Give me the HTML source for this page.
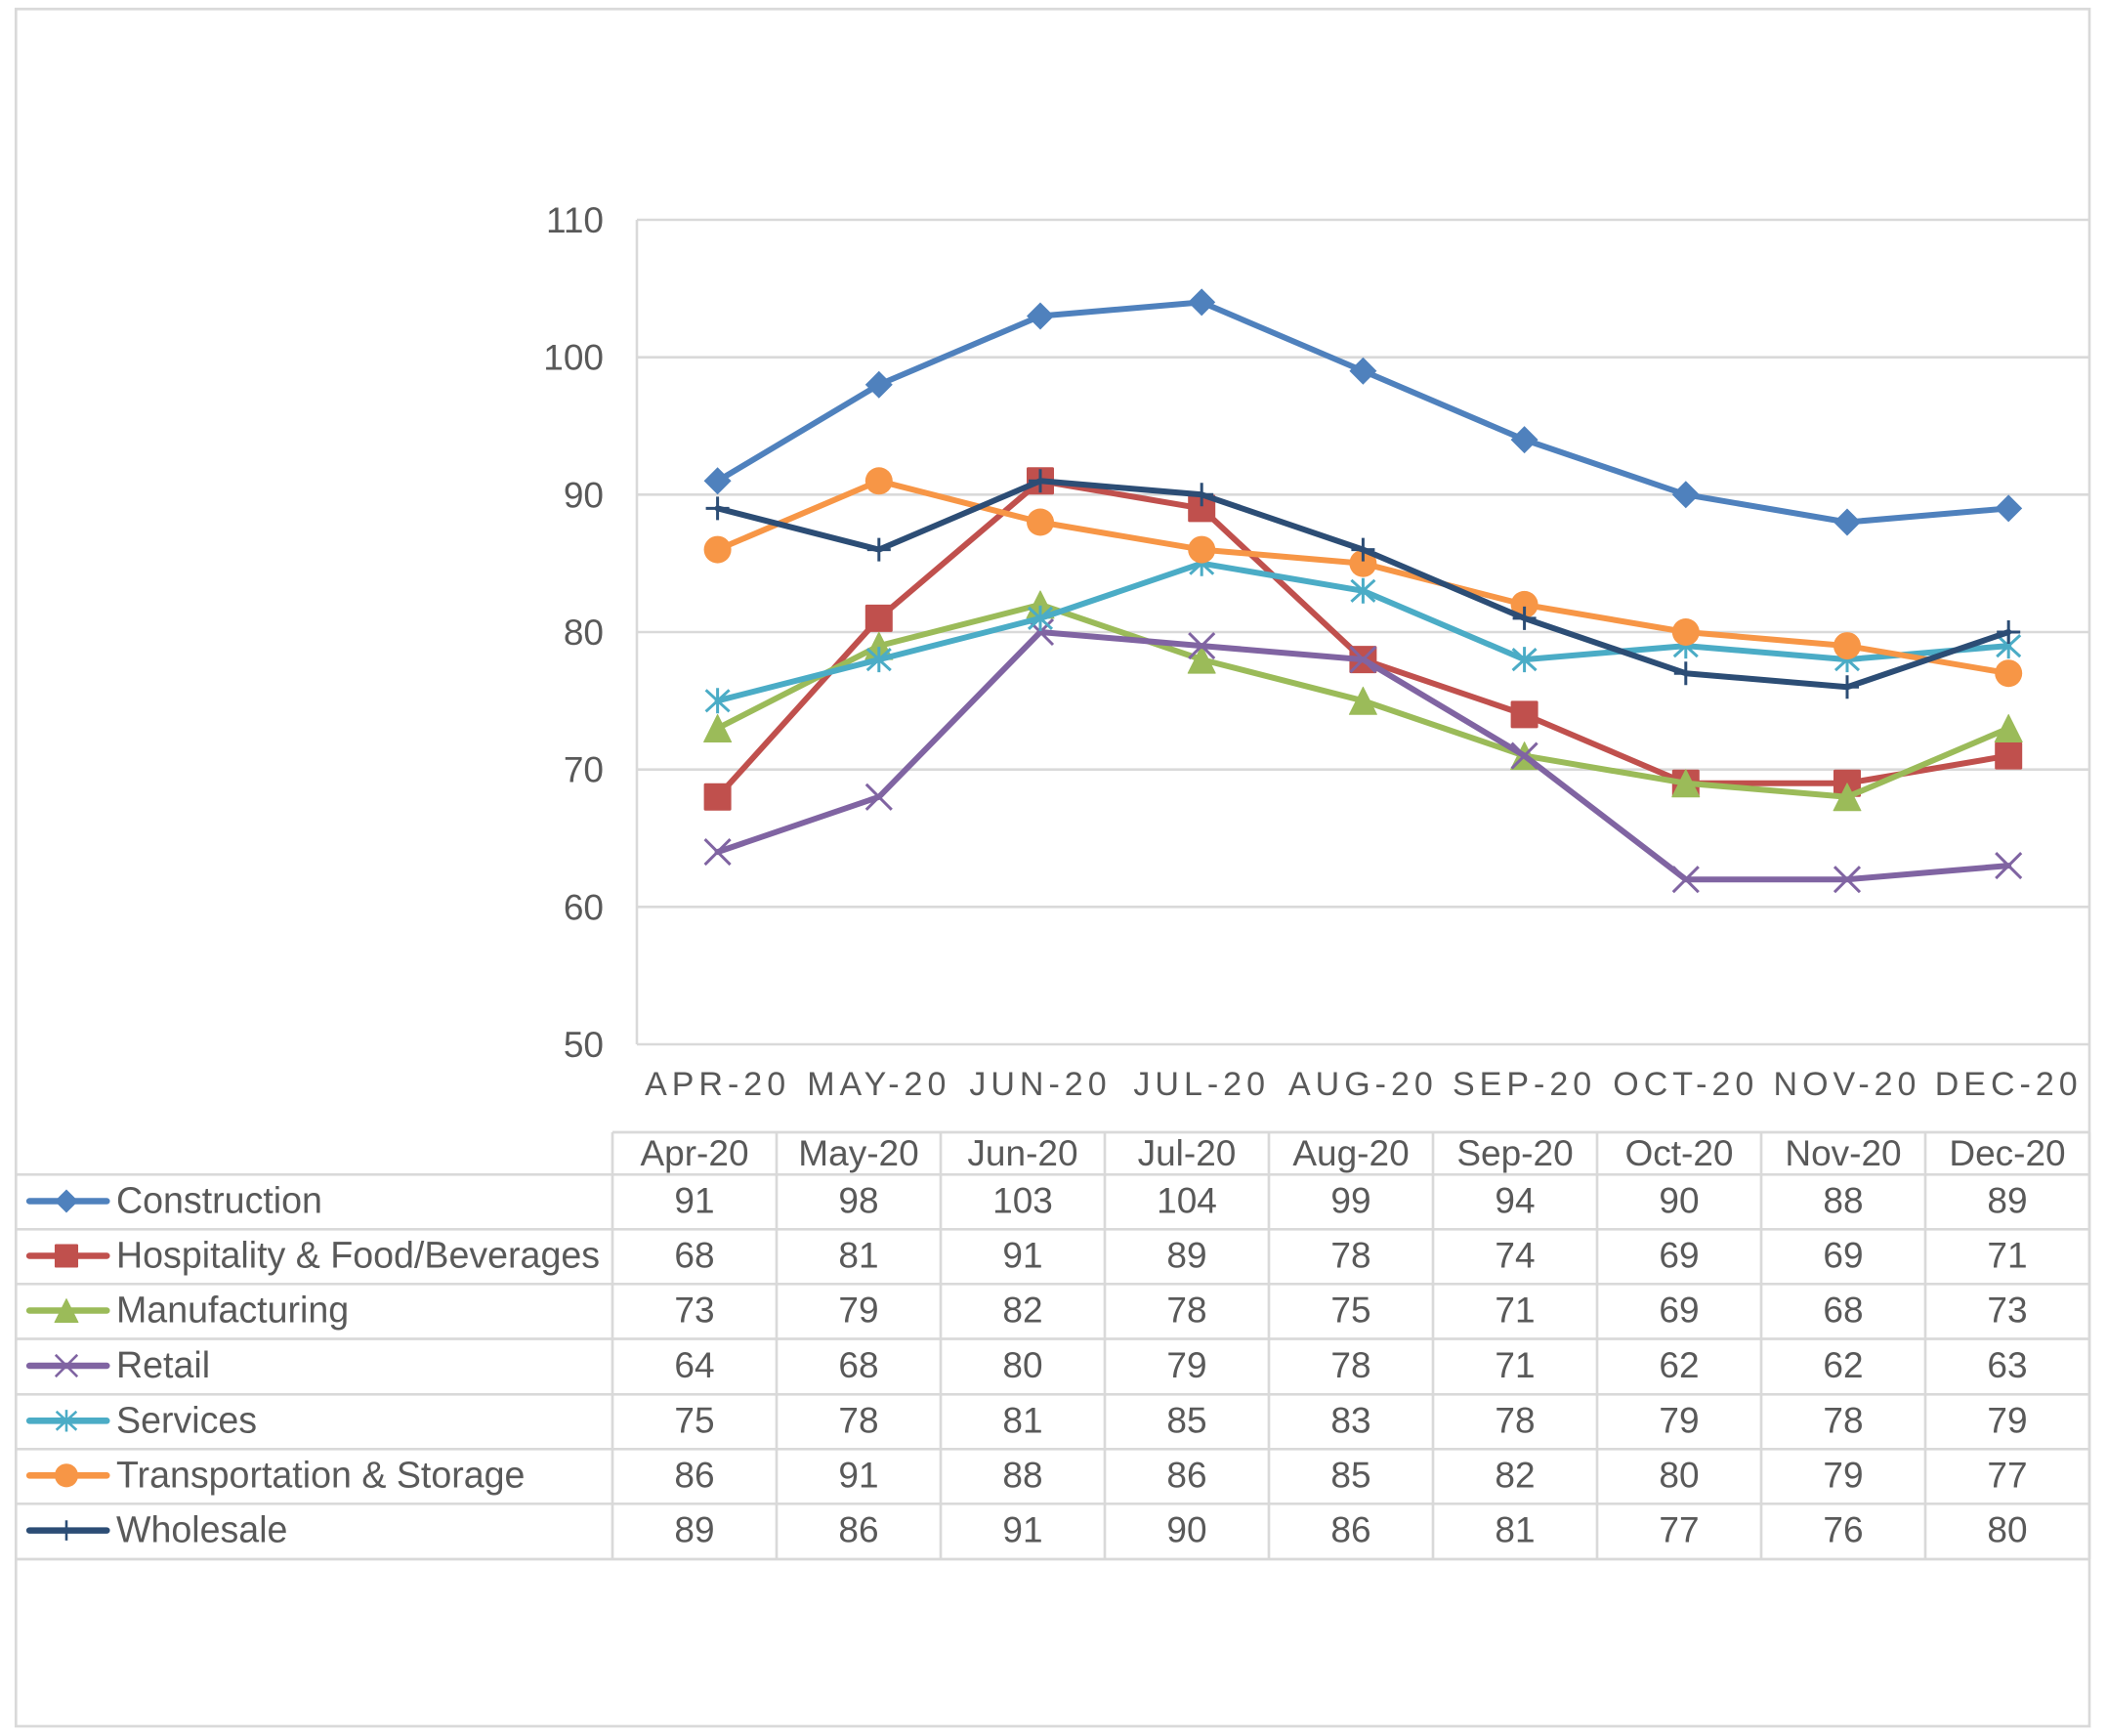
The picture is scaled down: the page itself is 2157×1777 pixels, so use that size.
<!DOCTYPE html>
<html>
<head>
<meta charset="utf-8">
<style>
  html,body{margin:0;padding:0;background:#fff;}
  svg{display:block;}
  text{font-family:"Liberation Sans",Arial,sans-serif;fill:#595959;}
</style>
</head>
<body>
<svg width="2157" height="1777" viewBox="0 0 2157 1777" xmlns="http://www.w3.org/2000/svg">
<defs>
  <marker id="mDia" markerUnits="userSpaceOnUse" markerWidth="30" markerHeight="30" refX="15" refY="15" viewBox="0 0 30 30" overflow="visible">
    <path d="M15 1 L29 15 L15 29 L1 15 Z" fill="#4F81BD"/>
  </marker>
  <marker id="mSq" markerUnits="userSpaceOnUse" markerWidth="30" markerHeight="30" refX="15" refY="15" viewBox="0 0 30 30" overflow="visible">
    <rect x="1" y="1" width="28" height="28" rx="1.5" fill="#C0504D"/>
  </marker>
  <marker id="mTri" markerUnits="userSpaceOnUse" markerWidth="30" markerHeight="30" refX="15" refY="15" viewBox="0 0 30 30" overflow="visible">
    <path d="M15 1 L29 29 L1 29 Z" fill="#9BBB59" stroke="#9BBB59" stroke-width="1" stroke-linejoin="round"/>
  </marker>
  <marker id="mX" markerUnits="userSpaceOnUse" markerWidth="30" markerHeight="30" refX="15" refY="15" viewBox="0 0 30 30" overflow="visible">
    <path d="M2 2 L28 28 M28 2 L2 28" stroke="#8064A2" stroke-width="3" fill="none"/>
  </marker>
  <marker id="mAst" markerUnits="userSpaceOnUse" markerWidth="30" markerHeight="30" refX="15" refY="15" viewBox="0 0 30 30" overflow="visible">
    <path d="M15 2 L15 28 M3 4 L27 26 M27 4 L3 26" stroke="#4BACC6" stroke-width="3" fill="none"/>
  </marker>
  <marker id="mCir" markerUnits="userSpaceOnUse" markerWidth="30" markerHeight="30" refX="15" refY="15" viewBox="0 0 30 30" overflow="visible">
    <circle cx="15" cy="15" r="14" fill="#F79646"/>
  </marker>
  <marker id="mPlus" markerUnits="userSpaceOnUse" markerWidth="30" markerHeight="30" refX="15" refY="15" viewBox="0 0 30 30" overflow="visible">
    <path d="M3 15 L27 15 M15 3 L15 27" stroke="#2C4D75" stroke-width="3" fill="none"/>
  </marker>
</defs>

<!-- outer border -->
<rect x="16.3" y="9.2" width="2122.7" height="1757.8" fill="#fff" stroke="#d9d9d9" stroke-width="2.7"/>

<!-- gridlines -->
<g stroke="#d9d9d9" stroke-width="2.6" fill="none">
  <line x1="652" y1="225" x2="2139" y2="225"/>
  <line x1="652" y1="365.7" x2="2139" y2="365.7"/>
  <line x1="652" y1="506.3" x2="2139" y2="506.3"/>
  <line x1="652" y1="647" x2="2139" y2="647"/>
  <line x1="652" y1="787.7" x2="2139" y2="787.7"/>
  <line x1="652" y1="928.3" x2="2139" y2="928.3"/>
  <line x1="652" y1="1069" x2="2139" y2="1069"/>
  <line x1="652" y1="225" x2="652" y2="1069"/>
</g>

<!-- y tick labels -->
<g font-size="37" text-anchor="end">
  <text x="618" y="238">110</text>
  <text x="618" y="378.7">100</text>
  <text x="618" y="519.3">90</text>
  <text x="618" y="660">80</text>
  <text x="618" y="800.7">70</text>
  <text x="618" y="941.3">60</text>
  <text x="618" y="1082">50</text>
</g>

<!-- x labels -->
<g font-size="34" text-anchor="middle" letter-spacing="5">
  <text x="734.6" y="1121">APR-20</text>
  <text x="899.8" y="1121">MAY-20</text>
  <text x="1065" y="1121">JUN-20</text>
  <text x="1230.2" y="1121">JUL-20</text>
  <text x="1395.4" y="1121">AUG-20</text>
  <text x="1560.6" y="1121">SEP-20</text>
  <text x="1725.8" y="1121">OCT-20</text>
  <text x="1891" y="1121">NOV-20</text>
  <text x="2056.2" y="1121">DEC-20</text>
</g>

<!-- series -->
<g fill="none" stroke-width="6" stroke-linejoin="round" stroke-linecap="round">
  <polyline stroke="#4F81BD" marker-start="url(#mDia)" marker-mid="url(#mDia)" marker-end="url(#mDia)"
    points="734.6,492.3 899.8,393.8 1065,323.5 1230.2,309.4 1395.4,379.7 1560.6,450.1 1725.8,506.3 1891,534.5 2056.2,520.4"/>
  <polyline stroke="#C0504D" marker-start="url(#mSq)" marker-mid="url(#mSq)" marker-end="url(#mSq)"
    points="734.6,815.8 899.8,632.9 1065,492.3 1230.2,520.4 1395.4,675.1 1560.6,731.4 1725.8,801.7 1891,801.7 2056.2,773.6"/>
  <polyline stroke="#9BBB59" marker-start="url(#mTri)" marker-mid="url(#mTri)" marker-end="url(#mTri)"
    points="734.6,745.5 899.8,661.1 1065,618.9 1230.2,675.1 1395.4,717.3 1560.6,773.6 1725.8,801.7 1891,815.8 2056.2,745.5"/>
  <polyline stroke="#8064A2" marker-start="url(#mX)" marker-mid="url(#mX)" marker-end="url(#mX)"
    points="734.6,872.1 899.8,815.8 1065,647 1230.2,661.1 1395.4,675.1 1560.6,773.6 1725.8,900.2 1891,900.2 2056.2,886.1"/>
  <polyline stroke="#4BACC6" marker-start="url(#mAst)" marker-mid="url(#mAst)" marker-end="url(#mAst)"
    points="734.6,717.3 899.8,675.1 1065,632.9 1230.2,576.7 1395.4,604.8 1560.6,675.1 1725.8,661.1 1891,675.1 2056.2,661.1"/>
  <polyline stroke="#F79646" marker-start="url(#mCir)" marker-mid="url(#mCir)" marker-end="url(#mCir)"
    points="734.6,562.6 899.8,492.3 1065,534.5 1230.2,562.6 1395.4,576.7 1560.6,618.9 1725.8,647 1891,661.1 2056.2,689.2"/>
  <polyline stroke="#2C4D75" marker-start="url(#mPlus)" marker-mid="url(#mPlus)" marker-end="url(#mPlus)"
    points="734.6,520.4 899.8,562.6 1065,492.3 1230.2,506.3 1395.4,562.6 1560.6,632.9 1725.8,689.2 1891,703.3 2056.2,647"/>
</g>

<!-- table lines -->
<g stroke="#d9d9d9" stroke-width="2.7" fill="none">
  <line x1="627" y1="1159" x2="2139" y2="1159"/>
  <line x1="16" y1="1202.3" x2="2139" y2="1202.3"/>
  <line x1="16" y1="1258.3" x2="2139" y2="1258.3"/>
  <line x1="16" y1="1314.3" x2="2139" y2="1314.3"/>
  <line x1="16" y1="1370.5" x2="2139" y2="1370.5"/>
  <line x1="16" y1="1427.3" x2="2139" y2="1427.3"/>
  <line x1="16" y1="1483.3" x2="2139" y2="1483.3"/>
  <line x1="16" y1="1539.3" x2="2139" y2="1539.3"/>
  <line x1="16" y1="1596" x2="2139" y2="1596"/>
  <line x1="627" y1="1159" x2="627" y2="1596"/>
  <line x1="795" y1="1159" x2="795" y2="1596"/>
  <line x1="963" y1="1159" x2="963" y2="1596"/>
  <line x1="1131" y1="1159" x2="1131" y2="1596"/>
  <line x1="1299" y1="1159" x2="1299" y2="1596"/>
  <line x1="1467" y1="1159" x2="1467" y2="1596"/>
  <line x1="1635" y1="1159" x2="1635" y2="1596"/>
  <line x1="1803" y1="1159" x2="1803" y2="1596"/>
  <line x1="1971" y1="1159" x2="1971" y2="1596"/>
  <line x1="2139" y1="1159" x2="2139" y2="1596"/>
</g>

<!-- table header -->
<g font-size="37" text-anchor="middle">
  <text x="711" y="1193">Apr-20</text>
  <text x="879" y="1193">May-20</text>
  <text x="1047" y="1193">Jun-20</text>
  <text x="1215" y="1193">Jul-20</text>
  <text x="1383" y="1193">Aug-20</text>
  <text x="1551" y="1193">Sep-20</text>
  <text x="1719" y="1193">Oct-20</text>
  <text x="1887" y="1193">Nov-20</text>
  <text x="2055" y="1193">Dec-20</text>
</g>

<!-- legend keys -->
<g fill="none" stroke-linecap="round">
  <g transform="translate(68 1229.5) scale(0.86)"><polyline points="-44,0 0,0 48,0" stroke="#4F81BD" stroke-width="7.6" marker-mid="url(#mDia)"/></g>
  <g transform="translate(68 1285.5) scale(0.86)"><polyline points="-44,0 0,0 48,0" stroke="#C0504D" stroke-width="7.6" marker-mid="url(#mSq)"/></g>
  <g transform="translate(68 1341.5) scale(0.86)"><polyline points="-44,0 0,0 48,0" stroke="#9BBB59" stroke-width="7.6" marker-mid="url(#mTri)"/></g>
  <g transform="translate(68 1398) scale(0.86)"><polyline points="-44,0 0,0 48,0" stroke="#8064A2" stroke-width="7.6" marker-mid="url(#mX)"/></g>
  <g transform="translate(68 1454.3) scale(0.86)"><polyline points="-44,0 0,0 48,0" stroke="#4BACC6" stroke-width="7.6" marker-mid="url(#mAst)"/></g>
  <g transform="translate(68 1510.3) scale(0.86)"><polyline points="-44,0 0,0 48,0" stroke="#F79646" stroke-width="7.6" marker-mid="url(#mCir)"/></g>
  <g transform="translate(68 1566.6) scale(0.86)"><polyline points="-44,0 0,0 48,0" stroke="#2C4D75" stroke-width="7.6" marker-mid="url(#mPlus)"/></g>
</g>

<!-- legend labels -->
<g font-size="37.6">
  <text x="119" y="1241.5">Construction</text>
  <text x="119" y="1297.5">Hospitality &amp; Food/Beverages</text>
  <text x="119" y="1353.5">Manufacturing</text>
  <text x="119" y="1410">Retail</text>
  <text x="119" y="1466.3">Services</text>
  <text x="119" y="1522.3">Transportation &amp; Storage</text>
  <text x="119" y="1578.6">Wholesale</text>
</g>

<!-- table values -->
<g font-size="37" text-anchor="middle">
  <text x="711" y="1241.5">91</text><text x="879" y="1241.5">98</text><text x="1047" y="1241.5">103</text><text x="1215" y="1241.5">104</text><text x="1383" y="1241.5">99</text><text x="1551" y="1241.5">94</text><text x="1719" y="1241.5">90</text><text x="1887" y="1241.5">88</text><text x="2055" y="1241.5">89</text>
  <text x="711" y="1297.5">68</text><text x="879" y="1297.5">81</text><text x="1047" y="1297.5">91</text><text x="1215" y="1297.5">89</text><text x="1383" y="1297.5">78</text><text x="1551" y="1297.5">74</text><text x="1719" y="1297.5">69</text><text x="1887" y="1297.5">69</text><text x="2055" y="1297.5">71</text>
  <text x="711" y="1353.5">73</text><text x="879" y="1353.5">79</text><text x="1047" y="1353.5">82</text><text x="1215" y="1353.5">78</text><text x="1383" y="1353.5">75</text><text x="1551" y="1353.5">71</text><text x="1719" y="1353.5">69</text><text x="1887" y="1353.5">68</text><text x="2055" y="1353.5">73</text>
  <text x="711" y="1410">64</text><text x="879" y="1410">68</text><text x="1047" y="1410">80</text><text x="1215" y="1410">79</text><text x="1383" y="1410">78</text><text x="1551" y="1410">71</text><text x="1719" y="1410">62</text><text x="1887" y="1410">62</text><text x="2055" y="1410">63</text>
  <text x="711" y="1466.3">75</text><text x="879" y="1466.3">78</text><text x="1047" y="1466.3">81</text><text x="1215" y="1466.3">85</text><text x="1383" y="1466.3">83</text><text x="1551" y="1466.3">78</text><text x="1719" y="1466.3">79</text><text x="1887" y="1466.3">78</text><text x="2055" y="1466.3">79</text>
  <text x="711" y="1522.3">86</text><text x="879" y="1522.3">91</text><text x="1047" y="1522.3">88</text><text x="1215" y="1522.3">86</text><text x="1383" y="1522.3">85</text><text x="1551" y="1522.3">82</text><text x="1719" y="1522.3">80</text><text x="1887" y="1522.3">79</text><text x="2055" y="1522.3">77</text>
  <text x="711" y="1578.6">89</text><text x="879" y="1578.6">86</text><text x="1047" y="1578.6">91</text><text x="1215" y="1578.6">90</text><text x="1383" y="1578.6">86</text><text x="1551" y="1578.6">81</text><text x="1719" y="1578.6">77</text><text x="1887" y="1578.6">76</text><text x="2055" y="1578.6">80</text>
</g>
</svg>
</body>
</html>
